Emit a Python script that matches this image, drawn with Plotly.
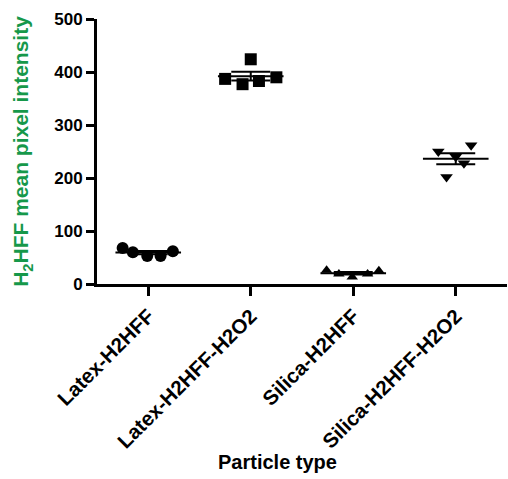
import numpy as np
import plotly.graph_objects as go

categories = ["Latex-H2HFF", "Latex-H2HFF-H2O2", "Silica-H2HFF", "Silica-H2HFF-H2O2"]
latex_h2hff = [68, 60, 53, 53, 62]
latex_h2hff_h2o2 = [387, 377, 424, 383, 390]
silica_h2hff = [26, 19, 13, 19, 25]
silica_h2hff_h2o2 = [250, 240, 228, 262, 202]
y_ticks = [0, 100, 200, 300, 400, 500]

series = [latex_h2hff, latex_h2hff_h2o2, silica_h2hff, silica_h2hff_h2o2]
# horizontal scatter spread of points (category units)
spread = [
    [-0.25, -0.15, -0.01, 0.12, 0.24],
    [-0.25, -0.08, 0.0, 0.08, 0.25],
    [-0.26, -0.14, -0.01, 0.14, 0.25],
    [-0.17, 0.0, 0.08, 0.15, -0.09],
]
symbols = ["circle", "square", "triangle-up", "triangle-down"]
sizes = [12, 12, 10, 11]

FONT = "Liberation Sans, Arial, sans-serif"
GREEN = "#16984a"

fig = go.Figure()

for i, vals in enumerate(series):
    v = np.array(vals, dtype=float)
    m = v.mean()
    sem = v.std(ddof=1) / np.sqrt(len(v))
    # mean line
    fig.add_trace(go.Scatter(x=[i - 0.32, i + 0.32], y=[m, m], mode="lines",
                             line=dict(color="black", width=2), hoverinfo="skip", showlegend=False))
    # SEM lines
    for yv in (m - sem, m + sem):
        fig.add_trace(go.Scatter(x=[i - 0.19, i + 0.19], y=[yv, yv], mode="lines",
                                 line=dict(color="black", width=2), hoverinfo="skip", showlegend=False))
    fig.add_trace(go.Scatter(x=[i, i], y=[m - sem, m + sem], mode="lines",
                             line=dict(color="black", width=2), hoverinfo="skip", showlegend=False))

for i, vals in enumerate(series):
    fig.add_trace(go.Scatter(
        x=[i + d for d in spread[i]], y=vals, mode="markers",
        marker=dict(symbol=symbols[i], size=sizes[i], color="black", line=dict(width=0)),
        name=categories[i], showlegend=False))

fig.update_layout(
    width=508, height=479,
    margin=dict(l=97, r=1, t=19, b=195),
    paper_bgcolor="white", plot_bgcolor="white",
    font=dict(family=FONT, color="black"),
    xaxis=dict(
        range=[-0.5, 3.5], tickmode="array", tickvals=list(range(len(categories))),
        ticktext=categories, tickangle=-45,
        tickfont=dict(family=FONT, size=20.5, weight="bold", color="black"),
        showline=True, linecolor="black", linewidth=3, mirror=False,
        ticks="outside", ticklen=9, tickwidth=3, tickcolor="black",
        showgrid=False, zeroline=False,
    ),
    yaxis=dict(
        range=[0, 500], tickmode="array", tickvals=y_ticks,
        tickfont=dict(family=FONT, size=17, weight="bold", color="black"),
        showline=True, linecolor="black", linewidth=3,
        ticks="outside", ticklen=8, tickwidth=3, tickcolor="black",
        showgrid=False, zeroline=False,
        title=dict(text="H<sub>2</sub>HFF mean pixel intensity",
                   font=dict(family=FONT, size=21, weight="bold", color=GREEN),
                   standoff=20),
    ),
    annotations=[dict(
        text="Particle type", xref="paper", yref="paper", x=0.44, y=-0.672,
        xanchor="center", yanchor="middle", showarrow=False,
        font=dict(family=FONT, size=20, weight="bold", color="black"),
    )],
)

fig.write_html("out.html")
